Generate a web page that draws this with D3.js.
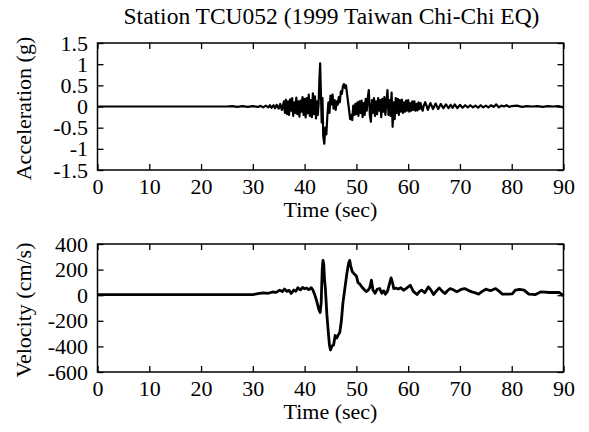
<!DOCTYPE html>
<html>
<head>
<meta charset="utf-8">
<script src="https://cdn.jsdelivr.net/npm/d3@7"></script>
<style>
  html, body { margin: 0; padding: 0; background: #fff; }
  svg { display: block; }
  text { font-family: "Liberation Serif", "Times New Roman", serif; fill: #000; }
</style>
</head>
<body>
<svg id="chart" width="589" height="432"></svg>
<script>
// Station TCU052 ground motion record: [time (s), acceleration (g)]
const accel = [
  [0, 0], [10, 0], [20, 0], [25, 0.0], [26, 0.01], [27, -0.01], [28, 0.01], [29, -0.01], [30, 0.01],
  [31, -0.01], [31.5, 0.015], [32, -0.02], [32.5, 0.02], [33, -0.02], [33.3, 0.03], [33.6, -0.03],
  [34, 0.03], [34.3, -0.04], [34.6, 0.04], [35, -0.05], [35.3, 0.06], [35.6, -0.08],
  [36.0, 0.12], [36.1, -0.05], [36.2, -0.15], [36.3, 0.04], [36.4, 0.16], [36.5, -0.02], [36.6, -0.18],
  [36.7, 0.05], [36.8, 0.12], [36.9, -0.08], [37.0, -0.2], [37.1, 0.02], [37.2, 0.17], [37.3, 0.0],
  [37.4, -0.1], [37.5, 0.08], [37.6, 0.2], [37.7, -0.05], [37.8, -0.22], [37.9, -0.02], [38.0, 0.1],
  [38.1, 0.02], [38.2, -0.15], [38.3, 0.05], [38.4, 0.21], [38.5, 0.0], [38.6, -0.18], [38.7, -0.03],
  [38.8, 0.12], [38.9, -0.06], [39.0, -0.24], [39.1, -0.02], [39.2, 0.14], [39.3, 0.02], [39.4, -0.12],
  [39.5, 0.06], [39.6, 0.22], [39.7, 0.0], [39.8, -0.2], [39.9, -0.02], [40.0, 0.18], [40.1, -0.04],
  [40.2, -0.26], [40.3, 0.0], [40.4, 0.2], [40.5, 0.03], [40.6, -0.16], [40.7, 0.08], [40.8, 0.28],
  [40.9, 0.02], [41.0, -0.22], [41.1, -0.03], [41.2, 0.15], [41.3, -0.05], [41.4, -0.25], [41.5, 0.05],
  [41.6, 0.31], [41.7, 0.06], [41.8, -0.18], [41.9, 0.03], [42.0, 0.24], [42.1, -0.02], [42.2, -0.28],
  [42.3, -0.06], [42.4, 0.12], [42.55, -0.2], [42.7, 0.05],
  [42.85, 0.6], [43.0, 1.02], [43.15, 0.3], [43.3, -0.38], [43.45, 0.2], [43.6, -0.7], [43.8, -0.88],
  [44.0, -0.5], [44.2, -0.66], [44.4, -0.2], [44.6, 0.1], [44.8, -0.15], [45.0, 0.26], [45.2, 0.05],
  [45.4, 0.28], [45.6, -0.05], [45.8, 0.15], [46.0, -0.08], [46.2, 0.12], [46.4, 0.04], [46.6, 0.22],
  [46.8, 0.1], [47.0, 0.36], [47.2, 0.3], [47.4, 0.48], [47.6, 0.53], [47.8, 0.44], [48.0, 0.5],
  [48.2, 0.3], [48.4, 0.1], [48.6, -0.1], [48.8, -0.3], [49.0, -0.2], [49.2, -0.32], [49.4, 0.02],
  [49.6, -0.2], [49.8, 0.06], [50.0, -0.18], [50.1, -0.02], [50.2, 0.1], [50.3, -0.05], [50.4, -0.22],
  [50.5, 0.0], [50.6, 0.12], [50.7, -0.02], [50.8, -0.15], [50.9, 0.03], [51.0, 0.14], [51.1, -0.06],
  [51.2, -0.25], [51.3, -0.05], [51.4, 0.08], [51.5, -0.06], [51.6, -0.2], [51.7, 0.0], [51.8, 0.18],
  [51.9, 0.02], [52.0, -0.1], [52.1, 0.06], [52.2, 0.2], [52.4, 0.39], [52.6, -0.2], [52.8, -0.36],
  [52.9, -0.08], [53.0, 0.15], [53.1, 0.0], [53.2, -0.15], [53.3, 0.04], [53.4, 0.2], [53.5, -0.02],
  [53.6, -0.22], [53.7, -0.04], [53.8, 0.12], [53.9, -0.02], [54.0, -0.18], [54.1, 0.02], [54.2, 0.2],
  [54.3, 0.04], [54.4, -0.1], [54.5, 0.04], [54.6, 0.15], [54.7, -0.06], [54.8, -0.25], [54.9, -0.02],
  [55.0, 0.18], [55.1, 0.02], [55.2, -0.12], [55.3, 0.06], [55.4, 0.22], [55.5, 0.0], [55.6, -0.2],
  [55.7, -0.04], [55.8, 0.1], [56.0, 0.39], [56.2, -0.2], [56.4, 0.15], [56.6, -0.22], [56.8, 0.33],
  [57.0, -0.48], [57.2, 0.1], [57.4, -0.3], [57.6, 0.2], [57.8, -0.15],
  [58.0, 0.18], [58.2, -0.2], [58.4, 0.15], [58.6, -0.12], [58.8, 0.16], [59.0, -0.15], [59.2, 0.1],
  [59.4, -0.12], [59.6, 0.14], [59.8, -0.1], [60.0, 0.15], [60.2, -0.12], [60.4, 0.08], [60.6, -0.1],
  [60.8, 0.12], [61.0, -0.08], [61.2, 0.12], [61.4, -0.1], [61.6, 0.06], [61.8, -0.09], [62.0, 0.1],
  [62.2, -0.06], [62.4, 0.08], [62.6, -0.04], [62.8, -0.1], [63.0, 0.02], [63.3, 0.1], [63.6, 0.0],
  [63.8, -0.08], [64.1, 0.02], [64.3, 0.08], [64.6, 0.0], [64.8, -0.06], [65.3, 0.07], [65.8, -0.06],
  [66.3, 0.06], [66.8, -0.04], [67.3, 0.05], [67.8, -0.04], [68.2, 0.04], [68.6, -0.03], [69.0, 0.05],
  [69.5, -0.04], [70.0, 0.04], [70.5, -0.03], [71.0, 0.03], [71.5, -0.02], [72.0, 0.03], [72.5, -0.02],
  [73.0, 0.02], [73.5, -0.03], [74.0, 0.03], [74.5, -0.02], [75.0, 0.02], [75.5, -0.02], [76.0, 0.03],
  [76.5, -0.01], [77.0, 0.05], [77.5, -0.02], [78.0, 0.02], [78.5, 0.0], [79.0, 0.03], [79.5, -0.01],
  [80.0, 0.01], [81.0, 0.02], [82.0, -0.01], [83.0, 0.01], [84.0, 0.0], [85.0, 0.01], [86.0, -0.01],
  [87.0, 0.01], [88.0, 0.0], [89.0, 0.01], [90.0, -0.02]
];

// Velocity record: [time (s), velocity (cm/s)]
const velocity = [
  [0, 5], [30, 5], [31, 12], [32, 18], [33, 15], [33.8, 25], [34.5, 22], [35.2, 40], [35.7, 28],
  [36.1, 48], [36.6, 30], [37.0, 38], [37.4, 14], [37.9, 40], [38.3, 30], [38.7, 58], [39.2, 42],
  [39.6, 60], [40.0, 50], [40.4, 56], [40.8, 44], [41.3, 58], [41.6, 40], [41.9, 10], [42.3, -40],
  [42.7, -105], [43.0, -135], [43.2, -60], [43.4, 200], [43.55, 272], [43.7, 240], [43.85, 120],
  [44.0, 60], [44.3, -150], [44.6, -300], [44.8, -390], [45.0, -428], [45.3, -395], [45.6, -390],
  [45.9, -315], [46.2, -335], [46.5, -310], [46.8, -290], [47.1, -200], [47.4, -60], [47.8, 60],
  [48.2, 180], [48.5, 250], [48.7, 272], [48.9, 230], [49.2, 185], [49.6, 165], [50.0, 150],
  [50.3, 100], [50.7, 85], [51.1, 62], [51.5, 45], [51.9, 28], [52.3, 40], [52.6, 60], [52.9, 117],
  [53.2, 40], [53.6, 15], [54.0, 45], [54.5, 52], [54.9, 15], [55.3, 35], [55.6, 8], [56.0, 30],
  [56.4, 90], [56.7, 135], [57.0, 95], [57.2, 52], [57.7, 55], [58.1, 48], [58.6, 58], [59.1, 39],
  [59.7, 55], [60.4, 78], [61.0, 30], [61.7, 5], [62.2, 30], [62.6, 39], [63.2, 20], [63.9, 65],
  [64.4, 40], [64.9, 5], [65.5, 35], [66.0, 57], [66.6, 30], [67.1, 13], [67.6, 35], [68.1, 52],
  [68.8, 40], [69.4, 26], [70.2, 45], [70.9, 52], [71.6, 38], [72.3, 26], [73.0, 18], [73.6, 8],
  [74.3, 30], [75.0, 47], [75.9, 35], [76.9, 52], [77.6, 30], [78.2, 8], [79.2, 8], [80.1, 10],
  [80.7, 40], [81.5, 46], [82.4, 40], [83.3, 8], [84.6, 5], [85.6, 26], [86.5, 24], [87.2, 21],
  [88.2, 22], [89.2, 21], [90.0, -5]
];

const timeTicks = [0, 10, 20, 30, 40, 50, 60, 70, 80, 90];
const accelTicks = [-1.5, -1, -0.5, 0, 0.5, 1, 1.5];
const velocityTicks = [-600, -400, -200, 0, 200, 400];

const titleText = "Station TCU052 (1999 Taiwan Chi-Chi EQ)";
const timeLabel = "Time (sec)";
const accelLabel = "Acceleration (g)";
const velocityLabel = "Velocity (cm/s)";

const svg = d3.select("#chart");
const FONT = 22;
const left = 97.5, right = 563.5;

svg.append("text")
  .attr("x", 331.5)
  .attr("y", 24)
  .attr("text-anchor", "middle")
  .style("font-size", "23.5px")
  .text(titleText);

function panel(data, yDomain, yTicks, top, bottom, yLabel, lineWidth) {
  const x = d3.scaleLinear().domain([0, 90]).range([left, right]);
  const y = d3.scaleLinear().domain(yDomain).range([bottom, top]);
  const g = svg.append("g");

  // Trace
  g.append("path")
    .datum(data)
    .attr("fill", "none")
    .attr("stroke", "#000")
    .attr("stroke-width", lineWidth)
    .attr("stroke-linejoin", "round")
    .attr("d", d3.line().x(d => x(d[0])).y(d => y(d[1])));

  const fmt = d => String(d);

  // Bottom axis: inward ticks, labels below
  const xb = g.append("g").attr("transform", `translate(0,${bottom})`)
    .call(d3.axisBottom(x).tickValues(timeTicks).tickSize(-6).tickPadding(8).tickFormat(fmt));
  // Top axis: inward ticks only
  const xt = g.append("g").attr("transform", `translate(0,${top})`)
    .call(d3.axisTop(x).tickValues(timeTicks).tickSize(-6).tickFormat(""));
  // Left axis
  const yl = g.append("g").attr("transform", `translate(${left},0)`)
    .call(d3.axisLeft(y).tickValues(yTicks).tickSize(-6).tickPadding(9.5).tickFormat(fmt));
  // Right axis
  const yr = g.append("g").attr("transform", `translate(${right},0)`)
    .call(d3.axisRight(y).tickValues(yTicks).tickSize(-6).tickFormat(""));

  [xb, xt, yl, yr].forEach(a => {
    a.select(".domain").remove();
    a.selectAll(".tick line").attr("stroke", "#000").attr("stroke-width", 1.3);
    a.selectAll("text").style("font-size", FONT + "px")
      .style("font-family", '"Liberation Serif", "Times New Roman", serif').attr("fill", "#000");
  });

  // Frame
  g.append("rect")
    .attr("x", left).attr("y", top)
    .attr("width", right - left).attr("height", bottom - top)
    .attr("fill", "none").attr("stroke", "#000").attr("stroke-width", 1.5);

  // Axis titles
  g.append("text")
    .attr("x", (left + right) / 2)
    .attr("y", bottom + 47)
    .attr("text-anchor", "middle")
    .style("font-size", FONT + "px")
    .text(timeLabel);

  g.append("text")
    .attr("transform", `translate(31,${(top + bottom) / 2 + 2}) rotate(-90)`)
    .attr("text-anchor", "middle")
    .style("font-size", FONT + "px")
    .text(yLabel);
}

panel(accel, [-1.5, 1.5], accelTicks, 43, 170, accelLabel, 2.2);
panel(velocity, [-600, 400], velocityTicks, 244, 372, velocityLabel, 2.8);
</script>
</body>
</html>
